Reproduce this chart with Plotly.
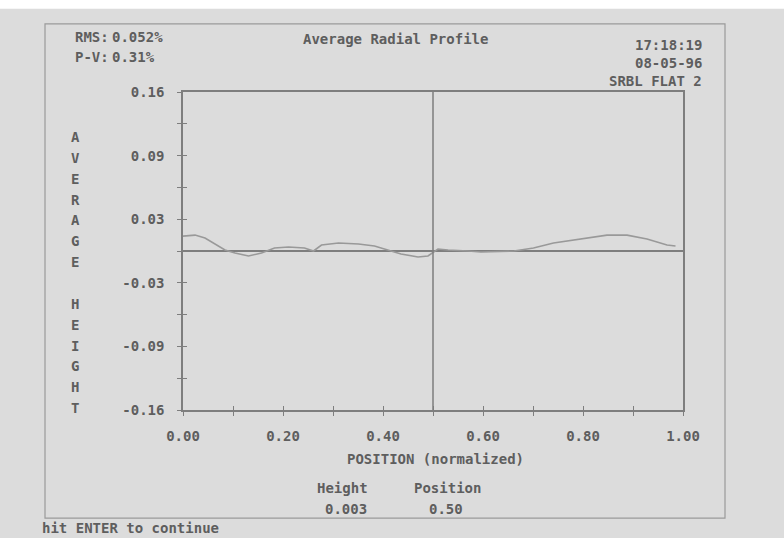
import plotly.graph_objects as go

# ---- data ----
position = [0.00, 0.024, 0.044, 0.064, 0.084, 0.104, 0.131, 0.157, 0.183, 0.211,
            0.243, 0.261, 0.277, 0.311, 0.351, 0.383, 0.410, 0.436, 0.470, 0.490,
            0.510, 0.530, 0.570, 0.596, 0.662, 0.701, 0.741, 0.795, 0.848, 0.888,
            0.928, 0.968, 0.985]
height = [0.015, 0.016, 0.013, 0.007, 0.001, -0.002, -0.005, -0.002, 0.003, 0.004,
          0.003, 0.000, 0.006, 0.008, 0.007, 0.005, 0.001, -0.003, -0.006, -0.005,
          0.002, 0.001, 0.000, -0.001, 0.000, 0.003, 0.008, 0.012, 0.016, 0.016,
          0.012, 0.006, 0.005]

x_tick_vals = [0.0, 0.1, 0.2, 0.3, 0.4, 0.5, 0.6, 0.7, 0.8, 0.9, 1.0]
x_tick_text = ["0.00", "", "0.20", "", "0.40", "", "0.60", "", "0.80", "", "1.00"]
y_tick_vals = [0.16, 0.128, 0.096, 0.064, 0.032, 0.0, -0.032, -0.064, -0.096, -0.128, -0.16]
y_tick_text = ["0.16", "", "0.09", "", "0.03", "", "-0.03", "", "-0.09", "", "-0.16"]

cursor_position = 0.50
cursor_height = "0.003"
cursor_pos_text = "0.50"
rms_text = "0.052%"
pv_text = "0.31%"
title_text = "Average Radial Profile"
time_text = "17:18:19"
date_text = "08-05-96"
sample_text = "SRBL FLAT 2"
y_label = "AVERAGE HEIGHT"
x_label = "POSITION (normalized)"
footer_text = "hit ENTER to continue"

BG = "#dcdcdc"
INK = "#5e5e5e"
LINE = "#7e7e7e"
FONT = "DejaVu Sans Mono"

fig = go.Figure()
fig.add_trace(go.Scatter(x=position, y=height, mode="lines",
                         line=dict(color="#999999", width=1.6),
                         showlegend=False, hoverinfo="skip"))
# invisible trace on overlay axes for inward ticks
fig.add_trace(go.Scatter(x=[0, 1], y=[-0.16, 0.16], xaxis="x2", yaxis="y2",
                         mode="markers", marker=dict(opacity=0),
                         showlegend=False, hoverinfo="skip"))

axis_font = dict(family=FONT, size=14, color=INK, weight="bold")
fig.update_layout(
    width=784, height=538, autosize=False,
    margin=dict(l=183, r=101, t=92, b=128),
    paper_bgcolor=BG, plot_bgcolor=BG,
    font=dict(family=FONT, size=14, color=INK),
    xaxis=dict(range=[0, 1], tickmode="array", tickvals=x_tick_vals, ticktext=x_tick_text,
               ticks="outside", ticklen=4, tickcolor=LINE, showgrid=False, zeroline=False,
               showline=True, linecolor=LINE, linewidth=1.5, mirror=True,
               tickfont=axis_font, ticklabelstandoff=8),
    yaxis=dict(range=[-0.16, 0.16], tickmode="array", tickvals=y_tick_vals, ticktext=y_tick_text,
               ticks="outside", ticklen=4, tickcolor=LINE, showgrid=False,
               zeroline=True, zerolinecolor=LINE, zerolinewidth=1.5,
               showline=True, linecolor=LINE, linewidth=1.5, mirror=True,
               tickfont=axis_font, ticklabelstandoff=10),
    xaxis2=dict(range=[0, 1], overlaying="x", side="bottom", tickmode="array",
                tickvals=x_tick_vals, ticks="inside", ticklen=4, tickcolor=LINE,
                showticklabels=False, showgrid=False, zeroline=False, showline=False),
    yaxis2=dict(range=[-0.16, 0.16], overlaying="y", side="left", tickmode="array",
                tickvals=y_tick_vals, ticks="inside", ticklen=4, tickcolor=LINE,
                showticklabels=False, showgrid=False, zeroline=False, showline=False),
)

# cursor line
fig.add_vline(x=cursor_position, line=dict(color=LINE, width=1.5))

# screen border and photo edge
fig.add_shape(type="rect", xref="paper", yref="paper", x0=-0.276, x1=1.084, y0=-0.340, y1=1.214,
              line=dict(color="#9a9a9a", width=1.2), layer="below")
fig.add_shape(type="rect", xref="paper", yref="paper", x0=-0.4, x1=1.25, y0=1.262, y1=1.32,
              line=dict(width=0), fillcolor="#ffffff", layer="below")


def ann(text, x, y, xanchor="left", size=14):
    fig.add_annotation(text=text, x=x, y=y, xref="paper", yref="paper",
                       xanchor=xanchor, yanchor="middle", showarrow=False,
                       font=dict(family=FONT, size=size, color=INK, weight="bold"))


ann("RMS:", -0.220, 1.173)
ann(rms_text, -0.146, 1.173)
ann("P-V:", -0.220, 1.110)
ann(pv_text, -0.146, 1.110)
ann(title_text, 0.424, 1.167, "center")
ann(time_text, 1.042, 1.148, "right")
ann(date_text, 1.042, 1.091, "right")
ann(sample_text, 1.042, 1.035, "right")
ann(x_label, 0.504, -0.154, "center")
ann("Height", 0.318, -0.245, "center")
ann("Position", 0.528, -0.245, "center")
ann(cursor_height, 0.326, -0.311, "center")
ann(cursor_pos_text, 0.526, -0.311, "center")
ann(footer_text, -0.286, -0.371)

for i, ch in enumerate(y_label):
    if ch != " ":
        ann(ch, -0.216, (410 - (137 + i * 20.85)) / 318, "center")

fig.write_html("out.html")
